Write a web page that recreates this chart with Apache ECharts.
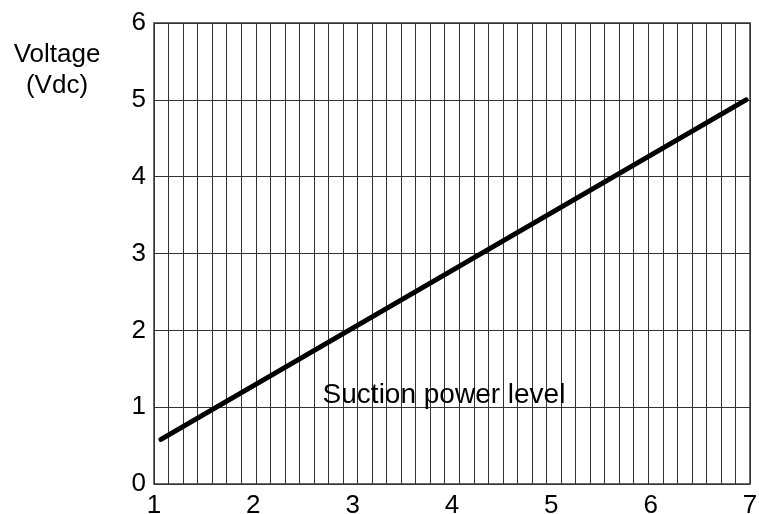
<!DOCTYPE html>
<html>
<head>
<meta charset="utf-8">
<script src="https://cdn.jsdelivr.net/npm/echarts@6/dist/echarts.min.js"></script>
<style>
  html, body { margin: 0; padding: 0; background: #fff; }
  #chart { width: 759px; height: 514px; }
</style>
</head>
<body>
<div id="chart"></div>
<script>
// Suction power level (x) against control voltage (y)
const levelTicks = [1, 2, 3, 4, 5, 6, 7];
const voltageTicks = [0, 1, 2, 3, 4, 5, 6];
// endpoints of the straight characteristic line: [level, volts]
const levels = [1.07, 6.96];
const volts = [0.58, 5.0];
// number of fine vertical rulings across the plot
const rulingCount = 41;

const FONT = '"Liberation Sans", Arial, sans-serif';
const chart = echarts.init(document.getElementById('chart'), null, { renderer: 'canvas' });

chart.setOption({
  animation: false,
  backgroundColor: '#ffffff',
  grid: {
    left: 154, right: 9, top: 23, bottom: 30,
    outerBoundsMode: 'none',
    containLabel: false,
    show: true, borderColor: '#3a3a3a', borderWidth: 1.5, backgroundColor: 'transparent'
  },
  graphic: [{
    type: 'text',
    x: 57, y: 39,
    style: {
      text: 'Voltage\n(Vdc)',
      font: '26px ' + FONT,
      fill: '#000',
      textAlign: 'center',
      textVerticalAlign: 'top',
      lineHeight: 31
    }
  }],
  xAxis: [{
    type: 'value',
    min: levelTicks[0], max: levelTicks[levelTicks.length - 1], interval: 1,
    position: 'bottom',
    name: 'Suction power level',
    nameLocation: 'middle',
    nameGap: -103,
    nameTextStyle: { fontFamily: FONT, fontSize: 28, color: '#000', padding: [0, 16, 0, 0] },
    axisLine: { show: false },
    axisTick: { show: false },
    splitLine: { show: false },
    axisLabel: { fontFamily: FONT, fontSize: 26, color: '#000', margin: 9 }
  }, {
    type: 'value',
    min: 0, max: rulingCount, interval: 1,
    position: 'top',
    axisLine: { show: false },
    axisTick: { show: false },
    axisLabel: { show: false },
    splitLine: { show: true, lineStyle: { color: '#333', width: 1 } }
  }],
  yAxis: {
    type: 'value',
    min: voltageTicks[0], max: voltageTicks[voltageTicks.length - 1], interval: 1,
    axisLine: { show: false },
    axisTick: { show: false },
    axisLabel: { fontFamily: FONT, fontSize: 26, color: '#000', margin: 8 },
    splitLine: { show: true, lineStyle: { color: '#333', width: 1 } }
  },
  series: [{
    type: 'line',
    xAxisIndex: 0,
    data: levels.map((x, i) => [x, volts[i]]),
    symbol: 'none',
    lineStyle: { color: '#000', width: 5, cap: 'round' },
    z: 5
  }]
});
</script>
</body>
</html>
